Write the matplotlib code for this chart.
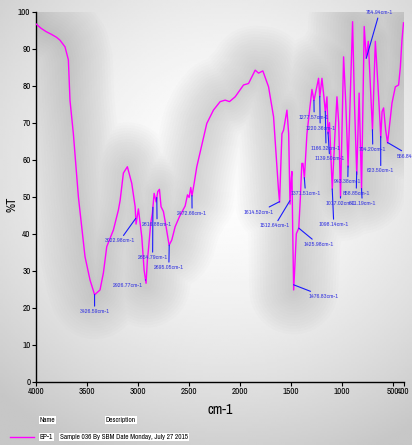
import numpy as np
import matplotlib
matplotlib.use('Agg')
import matplotlib.pyplot as plt
from matplotlib import font_manager
from matplotlib.lines import Line2D

# FTIR spectrum of BP-1
wavenumber = [4000, 3950, 3900, 3850, 3800, 3765, 3716, 3683, 3667, 3634, 3585,
              3569, 3520, 3471, 3426, 3373, 3340, 3307, 3242, 3193, 3176, 3144,
              3105, 3062, 3029, 3020, 2997, 2964, 2941, 2922, 2909, 2899, 2876,
              2860, 2843, 2824, 2807, 2791, 2775, 2752, 2729, 2696, 2670, 2637,
              2595, 2539, 2516, 2500, 2484, 2472, 2451, 2425, 2327, 2262, 2196,
              2147, 2105, 2049, 1967, 1918, 1853, 1820, 1778, 1722, 1673, 1640,
              1625, 1614, 1600, 1591, 1575, 1542, 1525, 1512, 1500, 1493, 1485,
              1476, 1465, 1450, 1426, 1410, 1396, 1385, 1371, 1346, 1297, 1277,
              1232, 1220, 1199, 1180, 1166, 1150, 1139, 1125, 1098, 1075, 1052,
              1035, 1017, 987, 965, 943, 899, 880, 858, 835, 811, 785, 765, 745,
              704, 676, 650, 630, 623, 610, 595, 575, 556, 513, 480, 448, 431,
              415, 400]
transmittance = [96.7, 95.5, 94.6, 93.9, 93.1, 92.3, 90.5, 87.0, 76.0, 67.0, 50.0,
                 46.0, 33.8, 27.5, 23.5, 24.8, 29.4, 36.5, 41.0, 46.4, 49.0, 56.4,
                 58.1, 53.6, 47.3, 42.6, 46.7, 39.2, 30.2, 26.6, 32.9, 35.6, 42.9,
                 45.5, 50.9, 48.6, 51.4, 52.0, 47.3, 46.0, 42.4, 36.9, 38.3, 41.9,
                 44.6, 47.5, 50.5, 49.8, 52.5, 50.2, 53.6, 58.1, 69.8, 73.4, 75.7,
                 76.1, 75.7, 77.0, 80.2, 80.6, 84.2, 83.4, 84.0, 79.7, 71.6, 58.1,
                 52.0, 48.5, 60.0, 67.0, 68.0, 73.4, 67.0, 48.0, 55.0, 56.8, 40.0,
                 24.8, 31.0, 40.0, 41.5, 50.0, 59.0, 59.0, 55.0, 67.0, 79.0, 76.0,
                 82.0, 77.0, 82.0, 77.0, 73.0, 77.0, 67.0, 70.0, 52.0, 65.0, 77.0,
                 70.0, 50.0, 87.8, 75.0, 58.0, 97.3, 75.0, 56.0, 78.0, 52.0, 96.0,
                 87.4, 92.0, 68.0, 92.0, 80.0, 70.0, 66.0, 73.0, 74.0, 68.0, 64.5,
                 75.3, 79.7, 80.2, 85.0, 92.4, 97.0]

# peak labels: annotated wavenumber, label position (wavenumber, %T)
peak_wn = [3426.59, 3022.98, 2926.77, 2854.79, 2816.88, 2695.05, 2472.66,
           1614.52, 1512.64, 1476.83, 1425.98, 1371.51, 1277.57, 1220.36,
           1166.32, 1139.50, 1098.14, 1017.02, 943.38, 858.85, 811.19,
           764.94, 704.20, 623.50, 556.84]
label_wn = [3426, 3180, 3103, 2858, 2814, 2699, 2471,
            1816, 1662, 1178, 1232, 1360, 1275, 1216,
            1159, 1123, 1083, 1020, 946, 863, 804,
            637, 701, 623, 330]
label_t = [19.0, 38.1, 26.1, 33.6, 42.6, 30.9, 45.5,
           45.8, 42.1, 23.0, 37.1, 50.9, 71.5, 68.5,
           63.1, 60.2, 42.5, 48.2, 54.0, 50.9, 48.2,
           99.7, 62.8, 57.0, 61.0]

x_ticks = [4000, 3500, 3000, 2500, 2000, 1500, 1000, 500, 400]

# pick a narrow sans face if one is there
installed = {f.name for f in font_manager.fontManager.ttflist}
narrow = [n for n in ['Liberation Sans Narrow', 'Arial Narrow', 'Archivo Narrow',
                      'PT Sans Narrow', 'Roboto Condensed', 'Pragati Narrow',
                      'Open Sans Condensed'] if n in installed]
plt.rcParams['font.family'] = narrow[:1] + ['DejaVu Sans']

fig = plt.figure(figsize=(4.12, 4.45), dpi=100)
fig.patch.set_facecolor('#ffffff')

# soft grey background
bg = fig.add_axes([0, 0, 1, 1], zorder=-10)
yy, xx = np.mgrid[0:1:200j, 0:1:200j]
r = np.sqrt(((xx - 0.55) / 0.8) ** 2 + ((yy - 0.62) / 0.7) ** 2)
bg.imshow(1 - 0.22 * np.clip(r, 0, 1) ** 1.6, cmap='gray', vmin=0, vmax=1,
          extent=[0, 1, 0, 1], aspect='auto', origin='lower')
bg.axis('off')

ax = fig.add_axes([0.0874, 0.1422, 0.892, 0.8315])
ax.patch.set_alpha(0)

# blurred shadow around the trace
for lw in np.linspace(64, 4, 16):
    ax.plot(wavenumber, transmittance, color='#606060', lw=lw, alpha=0.016,
            solid_capstyle='round', solid_joinstyle='round', zorder=1)
ax.plot(wavenumber, transmittance, color='#ff00ff', lw=1.0, zorder=3)

ax.set_xlim(4000, 400)
ax.set_ylim(0, 100)
ax.set_xticks(x_ticks)
ax.set_xticklabels([str(t) for t in x_ticks])
ax.set_yticks(range(0, 101, 10))
ax.tick_params(labelsize=6.5, length=3, width=0.8, pad=1)
for s in ['top', 'right']:
    ax.spines[s].set_visible(False)
for s in ['left', 'bottom']:
    ax.spines[s].set_linewidth(1.0)
ax.set_xlabel('cm-1', fontsize=10)
ax.xaxis.set_label_coords(0.5, -0.058)
ax.set_ylabel('%T', fontsize=9)
ax.yaxis.set_label_coords(-0.05, 0.48)

wn_asc = np.array(wavenumber[::-1])
t_asc = np.array(transmittance[::-1])
for w, lx, ly in zip(peak_wn, label_wn, label_t):
    py = np.interp(w, wn_asc, t_asc)
    ax.annotate(f'{w:.2f}cm-1', xy=(w, py), xytext=(lx, ly),
                fontsize=4.5, color='#3a3ae0', ha='center', va='center',
                annotation_clip=False, zorder=4,
                arrowprops=dict(arrowstyle='-', color='#1a1aff', lw=0.8,
                                shrinkA=0, shrinkB=0))

# legend block below the axes
box = dict(facecolor='white', edgecolor='none', pad=0.5)
fig.text(40 / 412, 1 - 420 / 445, 'Name', fontsize=5.2, va='center', bbox=box)
fig.text(106 / 412, 1 - 420 / 445, 'Description', fontsize=5.2, va='center', bbox=box)
fig.add_artist(Line2D([10 / 412, 34 / 412], [1 - 437 / 445, 1 - 437 / 445],
                      color='#ff00ff', lw=1.0, transform=fig.transFigure))
fig.text(40 / 412, 1 - 437 / 445, 'BP-1', fontsize=5.2, va='center', bbox=box)
fig.text(60 / 412, 1 - 437 / 445, 'Sample 036 By SBM Date Monday, July 27 2015',
         fontsize=5.2, va='center', bbox=box)

fig.savefig('out.png', dpi=100)
